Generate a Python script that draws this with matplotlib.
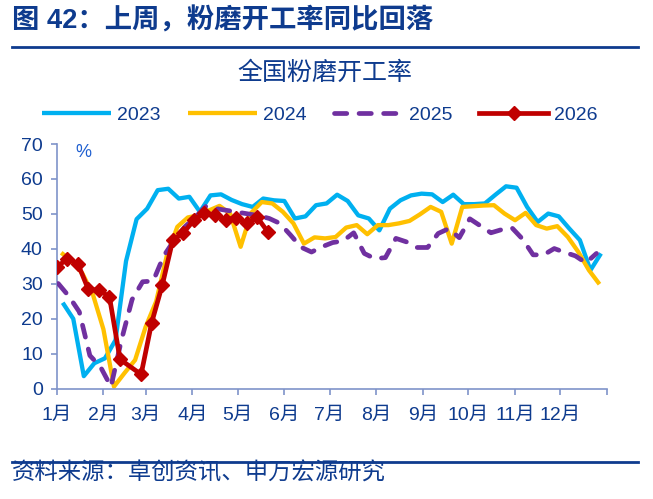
import numpy as np
import pandas as pd
import matplotlib
matplotlib.use("Agg")
import matplotlib.pyplot as plt
from matplotlib.lines import Line2D

plt.rcParams['font.family'] = ['Liberation Sans', 'Noto Sans CJK SC', 'DejaVu Sans']

# ---------------- data (weekly) ----------------
start_2023 = "2023-01-05"
v2023 = [24.6, 20.0, 3.6, 7.3, 8.7, 13.9, 36.5, 48.5, 51.5, 56.8, 57.2, 54.4, 54.9,
         50.6, 55.3, 55.6, 54.0, 52.8, 52.0, 54.4, 53.9, 53.7, 48.7, 49.3, 52.5, 53.0,
         55.5, 53.7, 49.6, 48.7, 45.3, 51.5, 53.9, 55.3, 55.8, 55.6, 53.4, 55.5, 52.8,
         52.8, 53.0, 55.5, 57.9, 57.5, 52.0, 47.7, 50.1, 49.3, 45.8, 42.5, 33.9, 38.7]

start_2024 = "2024-01-04"
v2024 = [38.9, 36.5, 33.0, 27.0, 17.0, 0.6, 4.5, 8.2, 17.7, 25.0, 38.0, 46.3, 49.0,
         49.6, 51.0, 52.3, 50.1, 40.6, 50.3, 53.4, 53.0, 50.6, 47.3, 41.5, 43.3, 43.0,
         43.4, 46.1, 46.8, 44.2, 46.8, 46.8, 47.3, 48.0, 49.9, 52.0, 50.6, 41.5, 52.0,
         52.2, 52.4, 52.5, 50.1, 48.2, 50.3, 46.8, 45.8, 46.5, 43.4, 39.1, 33.9, 29.9]

start_2025 = "2025-01-02"
v2025 = [30.1, 26.5, 22.0, 9.5, 6.3, 0.6, 14.0, 25.5, 30.6, 30.8, 38.0, 42.5, 46.3,
         49.1, 52.2, 51.5, 51.0, 50.5, 50.0, 49.5, 48.7, 47.3, 44.0, 40.5, 39.1, 40.6,
         41.8, 42.3, 44.6, 38.7, 37.2, 37.5, 43.0, 42.0, 40.4, 40.4, 44.4, 45.8, 43.2,
         48.6, 46.6, 44.6, 45.5, 46.0, 42.8, 38.3, 38.3, 40.1, 39.0, 38.0, 36.0, 38.7]

start_2026 = "2026-01-01"
v2026 = [34.7, 37.2, 35.8, 28.4, 28.2, 26.3, 8.4, np.nan, 4.1, 18.9, 29.6, 42.5, 44.6,
         48.2, 50.3, 49.6, 48.4, 48.9, 47.3, 49.0, 44.9]

years = ["2023", "2024", "2025", "2026"]
starts = [start_2023, start_2024, start_2025, start_2026]
values = [v2023, v2024, v2025, v2026]

month_labels = ['1月', '2月', '3月', '4月', '5月', '6月', '7月', '8月', '9月',
                '10月', '11月', '12月', '']
month_ticks = [0, 31, 59, 90, 120, 151, 181, 212, 243, 273, 304, 334, 365]

# ---------------- style ----------------
navy = '#0E3B8E'
axis_col = '#7F93C9'
colors = ['#00B0F0', '#FFC000', '#7030A0', '#C00000']

fig = plt.figure(figsize=(6.53, 4.99), dpi=100)
ax = fig.add_axes([0.0868, 0.221, 0.8428, 0.4904])

handles = []
for yr, st, vals, c in zip(years, starts, values, colors):
    d = pd.date_range(st, periods=len(vals), freq='7D')
    s = pd.Series(vals, index=d).dropna()
    x = (s.index - pd.Timestamp(f"{yr}-01-01")).days
    if yr == "2025":
        h, = ax.plot(x, s.values, color=c, lw=3.4, dashes=(2.6, 2.6),
                     dash_capstyle='round', label=yr, zorder=3)
    elif yr == "2026":
        h, = ax.plot(x, s.values, color=c, lw=3.4, marker='D', markersize=7.5,
                     markeredgecolor=c, label=yr, zorder=4)
    else:
        h, = ax.plot(x, s.values, color=c, lw=3.1, label=yr,
                     solid_capstyle='butt', zorder=2)
    handles.append(h)

ax.set_xlim(0, 365)
ax.set_ylim(0, 70)
ax.set_yticks(range(0, 71, 10))
ax.set_xticks(month_ticks)
ax.set_xticklabels(month_labels)

for sp in ['top', 'right']:
    ax.spines[sp].set_visible(False)
for sp in ['left', 'bottom']:
    ax.spines[sp].set_color(axis_col)
    ax.spines[sp].set_linewidth(1.2)

ax.tick_params(axis='both', colors=axis_col, labelcolor=navy, labelsize=14,
               length=4, width=1.2, direction='out')
ax.tick_params(axis='x', pad=9)
ax.tick_params(axis='y', pad=6)

ax.text(0.048, 0.967, '%', transform=ax.transAxes, ha='center', va='center',
        fontsize=13, color='#1F5FD0')

leg = fig.legend(handles=handles, loc='center', bbox_to_anchor=(0.49, 0.7695),
                 ncol=4, frameon=False, fontsize=14, handlelength=3.55,
                 handletextpad=0.3, columnspacing=1.4, numpoints=1,
                 borderaxespad=0, borderpad=0)
for t in leg.get_texts():
    t.set_color(navy)

# titles and rules
fig.text(12 / 653, 1 - 21 / 499, '图 42：上周，粉磨开工率同比回落', ha='left', va='center',
         fontsize=19.7, fontweight='bold', color=navy)
fig.add_artist(Line2D([12 / 653, 638 / 653], [1 - 47 / 499] * 2, color=navy, lw=2))
fig.text(325 / 653, 1 - 73 / 499, '全国粉磨开工率', ha='center', va='center',
         fontsize=18, color=navy)
fig.add_artist(Line2D([12 / 653, 638 / 653], [1 - 462 / 499] * 2, color=navy, lw=2))
fig.text(12 / 653, 1 - 473 / 499, '资料来源：卓创资讯、申万宏源研究', ha='left', va='center',
         fontsize=16.8, color=navy)

fig.savefig('out.png', dpi=100)
